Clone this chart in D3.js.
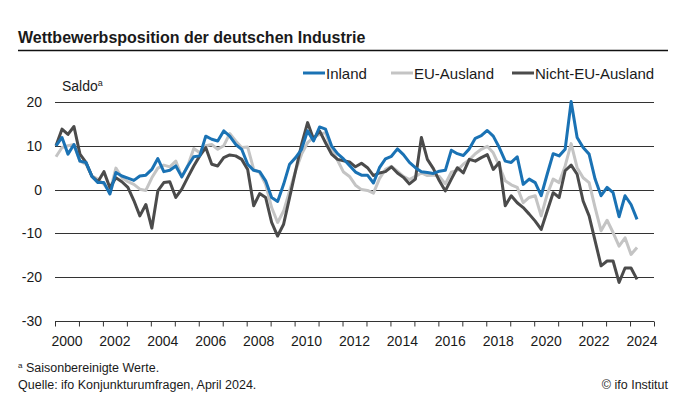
<!DOCTYPE html>
<html>
<head>
<meta charset="utf-8">
<script src="https://cdn.jsdelivr.net/npm/d3@7"></script>
<style>
  body { margin: 0; background: #fff; }
  svg text { font-family: "Liberation Sans", Arial, sans-serif; fill: #1a1a1a; }
</style>
</head>
<body>
<div id="chart"></div>
<script>
// quarterly survey values, Jan 2000 .. Apr 2024
var startYear = 2000;
var inland = [10.0, 11.9, 8.1, 10.3, 6.5, 6.2, 3.0, 1.6, 1.6, -1.0, 3.9, 3.1, 2.6, 2.1, 3.1, 3.3,
    4.6, 7.1, 4.1, 4.4, 5.4, 2.9, 5.4, 7.5, 7.7, 12.2, 11.5, 11.1, 13.4, 12.2, 10.3, 9.2,
    5.8, 4.4, 4.1, 2.0, -1.8, -2.7, 1.2, 5.8, 7.3, 9.2, 13.4, 11.1, 14.3, 13.8, 10.0, 8.2,
    7.0, 5.5, 4.0, 3.3, 3.3, 1.5, 5.0, 7.0, 7.6, 9.3, 8.0, 6.2, 5.0, 4.1, 3.9, 3.7,
    4.2, 4.4, 9.0, 8.2, 7.8, 9.3, 11.7, 12.3, 13.5, 12.2, 9.6, 6.5, 6.2, 7.5, 1.2, 2.4,
    1.6, -1.4, 3.5, 8.2, 7.7, 9.2, 20.1, 11.9, 9.6, 8.1, 2.4, -1.4, 0.5, -0.7, -6.2, -1.4,
    -3.4, -6.8];
var euAusland = [7.5, 9.6, 10.0, 10.3, 6.5, 5.8, 3.1, 2.4, 1.2, -0.5, 4.9, 2.7, 1.8, 1.2, 0.1, -0.2,
    2.7, 4.9, 5.6, 5.2, 6.5, 2.9, 5.4, 9.4, 8.4, 10.0, 10.3, 9.2, 10.0, 12.8, 11.1, 9.6,
    9.7, 4.6, 3.9, 1.2, -4.1, -7.5, -4.9, -0.3, 4.3, 8.1, 10.7, 11.9, 12.6, 13.0, 9.2, 6.7,
    4.0, 3.0, 1.0, 0.0, -0.2, -0.8, 2.5, 4.6, 5.3, 4.2, 3.0, 2.3, 3.0, 3.8, 3.2, 3.3,
    3.0, 1.3, 4.0, 4.4, 5.8, 6.8, 8.2, 9.2, 9.9, 8.4, 5.4, 2.0, 1.1, 0.5, -3.0, -1.8,
    -1.4, -6.0, -1.1, 2.4, 1.6, 5.4, 10.5, 5.0, 2.7, 1.6, -4.1, -9.4, -7.0, -9.8, -12.9, -11.0,
    -14.8, -13.2];
var nichtEu = [10.0, 13.8, 12.6, 14.4, 8.1, 6.2, 3.0, 1.8, 4.1, 0.4, 2.7, 1.8, 0.5, -2.5, -6.0, -3.4,
    -8.8, -0.3, 1.6, 1.8, -1.8, 0.1, 2.8, 5.4, 7.7, 9.6, 5.8, 5.4, 7.3, 7.9, 7.7, 6.9,
    4.6, -3.7, -0.9, -1.8, -7.5, -10.6, -7.9, -1.8, 4.3, 10.3, 15.3, 11.5, 13.4, 10.7, 8.1, 6.9,
    6.6, 6.3, 5.2, 6.0, 5.0, 3.2, 3.8, 4.1, 5.2, 3.8, 2.8, 1.3, 2.4, 11.9, 6.9, 4.8,
    2.0, -0.3, 2.4, 5.0, 3.8, 6.9, 6.5, 7.3, 8.0, 4.6, 6.2, -3.7, -1.4, -3.0, -4.1, -5.6,
    -7.2, -9.1, -4.9, -0.7, -1.8, 4.3, 5.6, 3.5, -2.6, -6.0, -11.7, -17.4, -16.3, -16.3, -21.2, -17.9,
    -17.9, -20.5];

var seriesNames = ["Inland", "EU-Ausland", "Nicht-EU-Ausland"];
var seriesColors = ["#1a72b4", "#c4c4c4", "#4b4b4b"];
var yTicks = [20, 10, 0, -10, -20, -30];
var xLabelYears = d3.range(2000, 2025, 2);

var width = 685, height = 398;
var plot = { left: 55, right: 654, top: 102, bottom: 321 };

var svg = d3.select("#chart").append("svg")
    .attr("width", width)
    .attr("height", height);

// title + rule
svg.append("text")
    .attr("x", 18).attr("y", 43)
    .style("font-size", "16px").style("font-weight", "bold")
    .text("Wettbewerbsposition der deutschen Industrie");
svg.append("line")
    .attr("x1", 18).attr("x2", 668).attr("y1", 50.5).attr("y2", 50.5)
    .attr("stroke", "#111").attr("stroke-width", 1.5);

var x = d3.scaleLinear().domain([2000, 2025]).range([plot.left, plot.right]);
var y = d3.scaleLinear().domain([-30, 20]).range([plot.bottom, plot.top]);

// grid
svg.append("g").selectAll("line")
    .data(yTicks)
    .enter().append("line")
    .attr("x1", plot.left).attr("x2", plot.right)
    .attr("y1", d => Math.round(y(d)) + 0.5).attr("y2", d => Math.round(y(d)) + 0.5)
    .attr("stroke", "#333").attr("stroke-width", 1);

svg.append("g").selectAll("text")
    .data(yTicks)
    .enter().append("text")
    .attr("x", 42).attr("y", d => y(d) + 5)
    .attr("text-anchor", "end")
    .style("font-size", "14px")
    .text(d => d);

// x axis ticks on the bottom line
var xAxis = d3.axisBottom(x)
    .tickValues(d3.range(2000, 2026))
    .tickSize(5)
    .tickFormat("");
var xg = svg.append("g")
    .attr("transform", "translate(0," + (Math.round(y(-30)) + 0.5) + ")")
    .call(xAxis);
xg.select(".domain").remove();
xg.selectAll(".tick line").attr("stroke", "#333");

svg.append("g").selectAll("text")
    .data(xLabelYears)
    .enter().append("text")
    .attr("x", d => x(d + 0.5))
    .attr("y", 346)
    .attr("text-anchor", "middle")
    .style("font-size", "14px")
    .text(d => d);

svg.append("text")
    .attr("x", 62).attr("y", 91)
    .style("font-size", "14px")
    .text("Saldo")
    .append("tspan").attr("dy", -5).style("font-size", "9px").text("a");

// lines
var allSeries = [inland, euAusland, nichtEu];
var line = d3.line()
    .x((d, i) => x(startYear + i * 0.25 + 1 / 24))
    .y(d => y(d));

// draw light and dark first, blue on top as in the source
[1, 2, 0].forEach(k => {
    svg.append("path")
        .datum(allSeries[k])
        .attr("fill", "none")
        .attr("stroke", seriesColors[k])
        .attr("stroke-width", 3)
        .attr("stroke-linejoin", "round")
        .attr("d", line);
});

// legend
var legendX = [303, 391, 512];
var legend = svg.append("g").selectAll("g")
    .data(seriesNames)
    .enter().append("g")
    .attr("transform", (d, i) => "translate(" + legendX[i] + ",73)");
legend.append("line")
    .attr("x1", 0).attr("x2", 22)
    .attr("stroke", (d, i) => seriesColors[i])
    .attr("stroke-width", 3);
legend.append("text")
    .attr("x", 23).attr("y", 5.5)
    .style("font-size", "15px")
    .text(d => d);

// notes
svg.append("text")
    .attr("x", 18).attr("y", 372)
    .style("font-size", "12.5px")
    .call(t => {
        t.append("tspan").attr("dy", -4).style("font-size", "8px").text("a");
        t.append("tspan").attr("dy", 4).text(" Saisonbereinigte Werte.");
    });
svg.append("text")
    .attr("x", 18).attr("y", 389)
    .style("font-size", "12.5px")
    .text("Quelle: ifo Konjunkturumfragen, April 2024.");
svg.append("text")
    .attr("x", 668).attr("y", 389)
    .attr("text-anchor", "end")
    .style("font-size", "12.5px")
    .text("\u00a9 ifo Institut");
</script>
</body>
</html>
